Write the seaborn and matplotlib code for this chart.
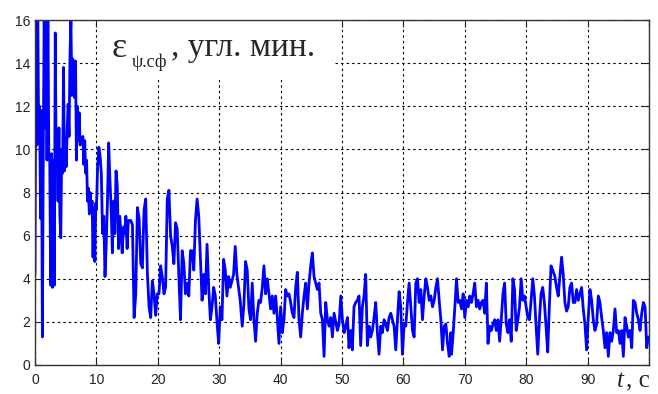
import numpy as np
import pandas as pd
import matplotlib
matplotlib.use("Agg")
import matplotlib.pyplot as plt
import seaborn as sns
from matplotlib.patches import Rectangle

# error readings, arcmin; each block = (start time [s], sampling step [s], values)
seg_a_start, seg_a_step = 0.0, 0.15
seg_a = [4.2, 16.5, 10.2, 16.5, 10.5, 12.0, 6.8, 11.8, 1.3, 10.0,
         16.5, 11.0, 16.5, 9.5, 16.5, 9.6, 9.5, 3.7, 9.8, 3.6,
         9.5, 3.7, 15.4, 9.3, 10.4, 7.6, 11.0, 6.9, 5.9, 10.0,
         8.9, 13.8, 9.0, 10.5, 9.2, 11.0, 12.1, 10.6, 14.4, 16.0,
         12.5, 14.2, 13.4, 12.4, 14.1, 9.5, 12.0, 10.4, 11.7, 10.2,
         10.5, 10.4, 10.6, 9.3, 10.4, 8.9, 9.5, 7.6, 8.2, 7.0,
         8.0, 7.2, 7.6, 5.0, 7.3, 4.8, 7.5]

seg_b_start, seg_b_step = 10.0, 0.2
seg_b = [7.2, 9.2, 10.1, 9.7, 8.9, 6.1, 6.9, 4.1, 5.6, 7.6,
         10.3, 8.6, 7.3, 5.2, 7.6, 6.1, 9.0, 8.3, 5.4, 6.9,
         6.1, 5.2, 6.4, 6.1, 6.9, 5.4, 6.7]

seg_c_start, seg_c_step = 15.6, 0.27
seg_c = [6.7, 6.5, 2.2, 3.3, 7.3, 6.8, 4.7, 4.5, 7.2, 7.7,
         4.3, 2.7, 2.2, 3.9, 3.3, 2.3, 3.3, 3.3, 4.6, 4.1,
         3.3, 3.6, 7.7, 8.1, 6.0, 5.5, 4.7, 6.6, 6.3, 4.1,
         2.1, 5.3, 4.7, 3.3, 3.8, 3.2, 5.3, 5.3, 4.4, 6.7,
         7.7, 6.9, 4.9, 3.0, 4.2, 3.3, 5.6, 3.6, 2.1, 2.7,
         3.6, 3.2, 2.0, 1.0, 2.7, 2.1, 4.9, 4.4, 3.2, 4.1,
         3.6, 3.9, 4.2, 5.5, 4.2, 3.6, 3.0]

seg_d_start, seg_d_step = 33.75, 0.272
seg_d = [1.8, 2.8, 4.8, 4.4, 2.6, 2.1, 3.8, 2.1, 1.1, 2.4,
         3.0, 2.9, 3.6, 4.6, 3.3, 4.0, 3.3, 2.6, 3.2, 2.4,
         3.2, 2.2, 1.0, 2.7, 1.5, 2.1, 3.5, 3.2, 3.3, 2.9,
         2.4, 2.2, 3.6, 4.3, 2.1, 1.3, 2.4, 3.2, 3.8, 2.6,
         3.8, 4.6, 5.2, 4.1, 3.8, 3.5, 3.8, 2.4, 2.1, 0.4,
         2.9, 2.1, 1.8, 2.2, 1.3, 2.4, 2.0, 1.6, 1.9, 3.2,
         2.1, 1.5, 1.8, 2.2]

seg_e_start, seg_e_step = 51.14, 0.272
seg_e = [0.8, 1.6, 0.7, 2.7, 2.9, 3.0, 3.2, 0.9, 2.7, 3.2,
         4.2, 0.9, 1.8, 1.3, 1.6, 2.2, 2.9, 1.5, 0.5, 1.8,
         1.5, 2.1, 1.9, 1.6, 2.2, 2.4, 2.1, 1.8, 0.7, 2.1,
         3.4, 2.7, 0.5, 1.9, 1.8, 2.9, 3.8, 2.7, 1.6, 1.3,
         3.8, 4.0, 2.9, 3.5, 2.1, 3.2, 4.0, 3.6, 3.0, 3.2,
         2.7, 3.0, 3.6, 4.0, 3.0, 2.1, 0.7, 1.8, 1.9, 1.0,
         0.4, 1.5]

seg_f_start, seg_f_step = 67.84, 0.27
seg_f = [0.5, 1.5, 2.7, 4.0, 2.9, 3.0, 2.6, 3.3, 2.2, 3.0,
         2.7, 3.2, 2.9, 3.3, 3.8, 2.7, 3.0, 2.6, 2.9, 3.0,
         2.4, 3.8, 1.0, 1.8, 1.6, 1.9, 2.1, 1.6, 2.1, 1.1,
         2.1, 3.3, 3.8, 1.9, 1.5, 2.1, 1.1, 4.0, 3.5, 1.6,
         2.1, 2.7, 4.0, 3.0, 3.2, 2.7, 2.2, 2.1, 3.0, 4.0,
         3.2, 1.8, 0.5, 2.1, 3.3, 3.6, 2.9, 1.8, 0.6, 2.7,
         4.6, 4.4]

seg_g_start, seg_g_step = 84.67, 0.272
seg_g = [4.1, 3.6, 3.2, 4.1, 5.0, 4.2, 2.9, 2.5, 2.7, 3.6,
         3.8, 2.9, 2.9, 3.5, 3.0, 3.3, 3.6, 2.6, 1.9, 0.7,
         2.2, 3.5, 3.0, 2.1, 1.6, 1.9, 3.2, 2.9, 2.2, 1.6,
         0.8, 1.5, 0.4, 1.5, 1.1, 1.6, 2.6, 1.5, 1.6, 1.0,
         1.6, 0.4, 2.2, 1.8, 1.3, 1.6, 0.8, 3.0, 2.9, 2.4,
         2.1, 1.6, 2.4, 2.9, 2.7, 0.8, 1.3]

x_ticks = [0, 10, 20, 30, 40, 50, 60, 70, 80, 90, 100]
x_tick_labels = ["0", "10", "20", "30", "40", "50", "60", "70", "80", "90", ""]
y_ticks = [0, 2, 4, 6, 8, 10, 12, 14, 16]

segments = [(seg_a_start, seg_a_step, seg_a), (seg_b_start, seg_b_step, seg_b),
            (seg_c_start, seg_c_step, seg_c), (seg_d_start, seg_d_step, seg_d),
            (seg_e_start, seg_e_step, seg_e), (seg_f_start, seg_f_step, seg_f),
            (seg_g_start, seg_g_step, seg_g)]
t = np.concatenate([s0 + ds * np.arange(len(v)) for s0, ds, v in segments])
eps = np.concatenate([v for _, _, v in segments])
df = pd.DataFrame({"t": t, "eps": eps})

sns.set_style("ticks")
plt.rcParams["font.family"] = ["Liberation Sans", "DejaVu Sans"]

fig = plt.figure(figsize=(6.58, 3.94), dpi=100)
ax = fig.add_axes([35 / 658, 29 / 394, 614 / 658, 345 / 394])

sns.lineplot(data=df, x="t", y="eps", ax=ax, color="#0000ff", linewidth=2.0,
             estimator=None, sort=False, zorder=2)

ax.set_xlim(0, 100)
ax.set_ylim(0, 16)
ax.set_xticks(x_ticks)
ax.set_xticklabels(x_tick_labels)
ax.set_yticks(y_ticks)
ax.set_xlabel("")
ax.set_ylabel("")
ax.grid(True, color="black", linestyle=(0, (2.2, 2.8)), linewidth=0.8)
ax.set_axisbelow(True)
ax.tick_params(direction="in", length=5, top=True, right=True, labelsize=10,
               colors="#222222", width=0.8)
ax.tick_params(axis="x", pad=5.5)
ax.tick_params(axis="y", pad=3.5)
for sp in ax.spines.values():
    sp.set_color("#333333")
    sp.set_linewidth(1.0)

# white patch behind the title, hides the grid
ax.add_patch(Rectangle((0.106, 0.826), 0.381, 0.174, transform=ax.transAxes,
                       facecolor="white", edgecolor="none", zorder=1))

serif = ["Liberation Serif", "DejaVu Serif"]
ax.text(0.124, 0.893, "ε", transform=ax.transAxes, fontsize=26, family=serif,
        va="baseline", zorder=3)
ax.text(0.158, 0.864, "ψ.сф", transform=ax.transAxes, fontsize=13, family=serif,
        va="baseline", zorder=3)
ax.text(0.222, 0.895, ", угл. мин.", transform=ax.transAxes, fontsize=24,
        family=serif, va="baseline", zorder=3)

fig.text(0.937, 0.019, "t", fontsize=18, family=serif, style="italic", va="baseline")
fig.text(0.952, 0.019, ", с", fontsize=18, family=serif, va="baseline")

fig.savefig("out.png", dpi=100)
